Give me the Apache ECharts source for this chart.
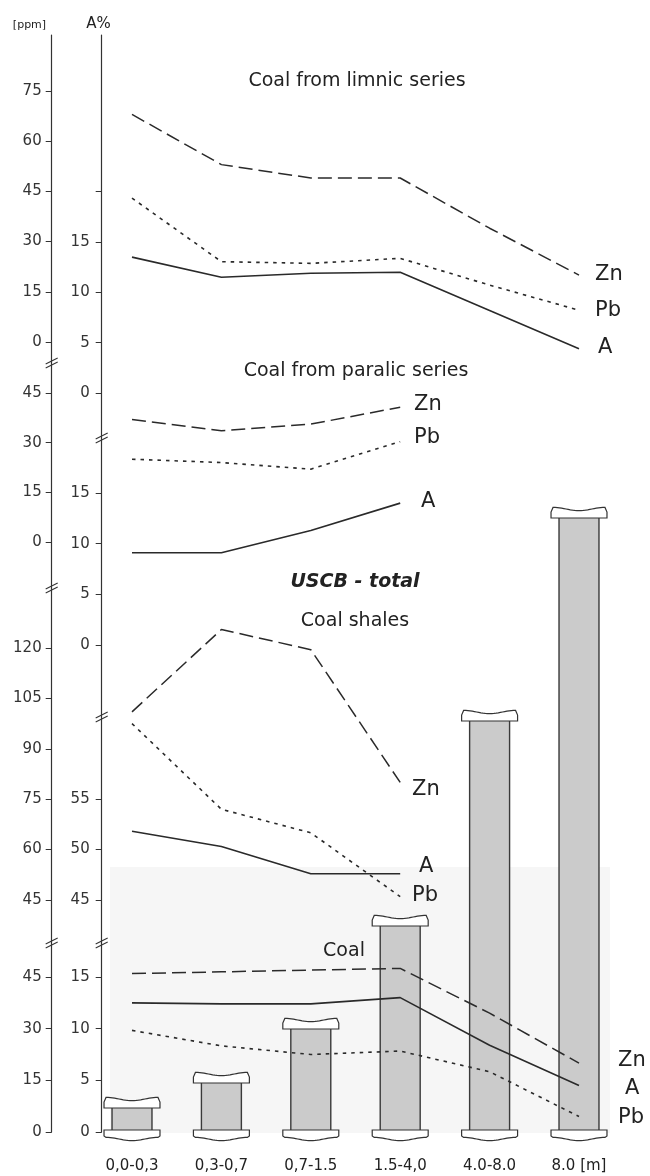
<!DOCTYPE html>
<html><head><meta charset="utf-8">
<script src="https://cdn.jsdelivr.net/npm/echarts@6/dist/echarts.min.js"></script>
<style>html,body{margin:0;padding:0;background:#fff}#c{width:650px;height:1176px}</style>
</head><body><div id="c"></div>
<script>
// ---------------- DATA ----------------
const categories = ['0,0-0,3', '0,3-0,7', '0,7-1.5', '1.5-4,0', '4.0-8.0', '8.0 [m]'];
const barValues = [2.5, 5.0, 10.4, 20.7, 41.2, 61.5];

const limnicZn = [68, 53, 49, 49, 34, 20];
const limnicPb = [43, 24, 23.5, 25, 17, 9.5];
const limnicA  = [13.5, 11.5, 11.9, 12.0, 8.2, 4.4];

const paralicZn = [37, 33.6, 35.6, 40.7];
const paralicPb = [25, 24, 22, 30.3];
const paralicA  = [9.1, 9.1, 11.3, 14.0];

const shalesZn = [101, 125.5, 119.5, 80];
const shalesPb = [97.5, 72, 65, 46];
const shalesA  = [51.8, 50.3, 47.6, 47.6];

const coalZn = [46, 46.5, 47, 47.5, 34.5, 20];
const coalPb = [29.5, 25, 22.5, 23.5, 17.5, 4.5];
const coalA  = [12.5, 12.4, 12.4, 13.0, 8.4, 4.5];

const ppmTicks1 = [0, 15, 30, 45, 60, 75];
const aTicks1 = [0, 5, 10, 15, 20];
const aLabels1 = [0, 5, 10, 15];
const ppmTicks2 = [0, 15, 30, 45];
const aTicks2 = [0, 5, 10, 15];
const ppmTicks3 = [45, 60, 75, 90, 105, 120];
const aTicks3 = [45, 50, 55];
const ppmTicks4 = [0, 15, 30, 45];
const aTicks4 = [0, 5, 10, 15];

// ---------------- LAYOUT ----------------
const FONT = 'DejaVu Sans';
const GL = 87.3, GW = 536.4;
const PPM_X = 51.7, AP_X = 101.7;
const INK = '#2a2a2a';

// axis segments: top/bottom pixel extent, two reference (value, pixel) pairs
const segs = [
  {top: 35,  bottom: 363,  a: [0, 342],  b: [75, 91],   ticks: ppmTicks1, labels: ppmTicks1, x: PPM_X, m: 10},
  {top: 35,  bottom: 438,  a: [0, 393],  b: [15, 242],  ticks: aTicks1,   labels: aLabels1,  x: AP_X,  m: 12},
  {top: 363, bottom: 588,  a: [0, 542],  b: [45, 393],  ticks: ppmTicks2, labels: ppmTicks2, x: PPM_X, m: 10},
  {top: 438, bottom: 717,  a: [0, 645],  b: [15, 493],  ticks: aTicks2,   labels: aTicks2,   x: AP_X,  m: 12},
  {top: 588, bottom: 943,  a: [45, 900], b: [120, 648], ticks: ppmTicks3, labels: ppmTicks3, x: PPM_X, m: 10},
  {top: 717, bottom: 943,  a: [45, 900], b: [55, 799],  ticks: aTicks3,   labels: aTicks3,   x: AP_X,  m: 12},
  {top: 943, bottom: 1132, a: [0, 1132], b: [45, 977],  ticks: ppmTicks4, labels: ppmTicks4, x: PPM_X, m: 10},
  {top: 943, bottom: 1132, a: [0, 1132], b: [15, 977],  ticks: aTicks4,   labels: aTicks4,   x: AP_X,  m: 12}
];

const grids = [], xAxes = [], yAxes = [];
segs.forEach((s, i) => {
  const k = (s.a[1] - s.b[1]) / (s.b[0] - s.a[0]); // px per unit
  const min = s.a[0] - (s.bottom - s.a[1]) / k;
  const max = s.a[0] + (s.a[1] - s.top) / k;
  grids.push({left: GL, width: GW, top: s.top, height: s.bottom - s.top, containLabel: false, outerBoundsMode: 'none'});
  xAxes.push({gridIndex: i, type: 'category', data: categories, boundaryGap: true, show: false});
  yAxes.push({
    gridIndex: i, type: 'value', min: min, max: max, position: 'left', offset: GL - s.x,
    axisLine: {show: true, onZero: false, lineStyle: {color: '#333', width: 1.2}},
    axisTick: {show: true, length: 6, customValues: s.ticks, lineStyle: {color: '#333', width: 1}},
    axisLabel: {show: true, customValues: s.labels, margin: s.m, fontFamily: FONT, fontSize: 15, color: '#333'},
    splitLine: {show: false}
  });
});
// bar grid (index 8)
grids.push({left: GL, width: GW, top: 132, height: 1000, containLabel: false, outerBoundsMode: 'none'});
xAxes.push({gridIndex: 8, type: 'category', data: categories, boundaryGap: true,
  axisLine: {show: false}, axisTick: {show: false},
  axisLabel: {show: true, margin: 27, fontFamily: FONT, fontSize: 15, color: '#222'}});
yAxes.push({gridIndex: 8, type: 'value', min: 0, max: 100, show: false, splitLine: {show: false}});

function lineSeries(data, gi, kind) {
  const st = {color: INK, width: 1.6, type: 'solid'};
  if (kind === 'Zn') { st.type = [14, 6]; st.width = 1.5; }
  if (kind === 'Pb') { st.type = [3.5, 5]; st.width = 1.6; }
  return {type: 'line', xAxisIndex: gi, yAxisIndex: gi, data: data, symbol: 'none',
    lineStyle: st, z: 5, silent: true, animation: false, clip: false};
}

function waveEdge(x0, w, yBase, amp, sign) {
  const pts = [];
  for (let j = 0; j <= 24; j++) {
    const t = j / 24;
    pts.push([x0 + 2 + t * (w - 4), yBase + sign * amp * Math.cos(2 * Math.PI * t)]);
  }
  return pts;
}

const barSeries = {
  type: 'custom', xAxisIndex: 8, yAxisIndex: 8, z: 3, silent: true, animation: false,
  data: barValues.map((v, i) => [i, v]),
  renderItem: function (params, api) {
    const i = api.value(0), v = api.value(1);
    const top = api.coord([i, v]);
    const base = api.coord([i, 0]);
    const band = api.size([1, 0])[0];
    const bw = band * 0.447, cw = band * 0.626;
    const cx = top[0];
    const capStyle = {fill: '#fff', stroke: '#333', lineWidth: 1.2};
    // top cap
    const tx0 = cx - cw / 2;
    const topPts = [[tx0, top[1] + 1], [tx0, top[1] - 5]]
      .concat(waveEdge(tx0, cw, top[1] - 8, 1.6, -1))
      .concat([[tx0 + cw, top[1] - 5], [tx0 + cw, top[1] + 1]]);
    const botPts = [[tx0, base[1] - 2], [tx0 + cw, base[1] - 2], [tx0 + cw, base[1] + 4]]
      .concat(waveEdge(tx0, cw, base[1] + 7, 1.6, -1).reverse())
      .concat([[tx0, base[1] + 4]]);
    return {type: 'group', children: [
      {type: 'rect', shape: {x: cx - bw / 2, y: top[1], width: bw, height: base[1] - top[1]},
        style: {fill: '#cbcbcb', stroke: '#3a3a3a', lineWidth: 1.4}},
      {type: 'polygon', shape: {points: topPts}, style: capStyle},
      {type: 'polygon', shape: {points: botPts}, style: capStyle}
    ]};
  }
};

const series = [
  barSeries,
  lineSeries(limnicZn, 0, 'Zn'), lineSeries(limnicPb, 0, 'Pb'), lineSeries(limnicA, 1, 'A'),
  lineSeries(paralicZn, 2, 'Zn'), lineSeries(paralicPb, 2, 'Pb'), lineSeries(paralicA, 3, 'A'),
  lineSeries(shalesZn, 4, 'Zn'), lineSeries(shalesPb, 4, 'Pb'), lineSeries(shalesA, 5, 'A'),
  lineSeries(coalZn, 6, 'Zn'), lineSeries(coalPb, 6, 'Pb'), lineSeries(coalA, 7, 'A')
];

// ---------------- TEXT & DECORATION ----------------
function txt(text, x, y, size, align, extra) {
  const style = Object.assign({text: text, x: x, y: y, fill: '#222',
    font: (extra && extra.font) || (size + 'px "' + FONT + '"'),
    align: align, verticalAlign: 'middle', textAlign: align, textVerticalAlign: 'middle'}, {});
  return {type: 'text', z: 10, silent: true, style: style};
}
function brk(x, y) {
  return [
    {type: 'line', z: 10, silent: true, shape: {x1: x - 6, y1: y + 1, x2: x + 6, y2: y - 5}, style: {stroke: '#333', lineWidth: 1.1}},
    {type: 'line', z: 10, silent: true, shape: {x1: x - 6, y1: y + 5, x2: x + 6, y2: y - 1}, style: {stroke: '#333', lineWidth: 1.1}}
  ];
}

const graphics = [
  {type: 'rect', z: -1, silent: true, shape: {x: 110, y: 867, width: 500, height: 266}, style: {fill: '#f6f6f6'}},
  txt('[ppm]', 29.5, 25, 11, 'center'),
  txt('A%', 98.5, 24, 15, 'center'),
  txt('Coal from limnic series', 357, 81, 19, 'center'),
  txt('Coal from paralic series', 356, 371, 19, 'center'),
  txt('USCB - total', 355, 582, 19, 'center', {font: 'italic bold 19px "' + FONT + '"'}),
  txt('Coal shales', 355, 621, 19, 'center'),
  txt('Coal', 344, 951, 19, 'center'),
  txt('Zn', 595, 275, 21, 'left'), txt('Pb', 595, 311, 21, 'left'), txt('A', 598, 348, 21, 'left'),
  txt('Zn', 414, 405, 21, 'left'), txt('Pb', 414, 438, 21, 'left'), txt('A', 421, 502, 21, 'left'),
  txt('Zn', 412, 790, 21, 'left'), txt('A', 419, 867, 21, 'left'), txt('Pb', 412, 896, 21, 'left'),
  txt('Zn', 618, 1061, 21, 'left'), txt('A', 625, 1089, 21, 'left'), txt('Pb', 618, 1118, 21, 'left')
].concat(brk(PPM_X, 363), brk(PPM_X, 588), brk(PPM_X, 943), brk(AP_X, 438), brk(AP_X, 717), brk(AP_X, 943));

const chart = echarts.init(document.getElementById('c'), null, {renderer: 'canvas'});
chart.setOption({
  animation: false,
  backgroundColor: '#fff',
  grid: grids, xAxis: xAxes, yAxis: yAxes,
  series: series,
  graphic: {elements: graphics}
});
</script></body></html>
